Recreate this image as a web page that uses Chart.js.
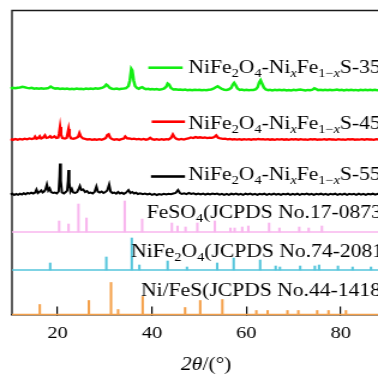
<!DOCTYPE html>
<html><head><meta charset="utf-8">
<style>
html,body{margin:0;padding:0;background:#fff;overflow:hidden;width:378px;height:376px}
#wrap{width:330px;height:376px;transform:scaleX(1.2);transform-origin:0 0}
canvas{display:block}
</style>
<script src="https://cdn.jsdelivr.net/npm/chart.js@4/dist/chart.umd.min.js"></script>
</head><body><div id="wrap"><canvas id="c" width="330" height="376"></canvas></div>
<script>
// ---- data ----
const xTicks = [20, 40, 60, 80];
const seriesNames = ['350', '450', '550'];
const offsets = { green: 224, red: 175, black: 120, pink: 82.5, cyan: 44.5, orange: 0 };

const green350 = [[10,2.0],[10.5,2.6],[11,2.2],[11.5,2.8],[12,3.0],[12.5,3.6],[13,3.2],[13.5,2.6],[14,2.2],[14.5,2.6],[15,1.9],[15.5,2.3],[16,1.8],[16.5,2.2],[17,1.7],[17.5,2.1],[18,2.4],[18.5,4.0],[19,2.6],[19.5,1.9],[20,2.2],[20.5,1.6],[21,2.0],[21.5,1.5],[22,1.9],[22.5,1.4],[23,1.8],[23.5,1.3],[24,1.9],[24.5,1.5],[25,1.8],[25.5,1.4],[26,1.9],[26.5,1.5],[27,2.0],[27.5,1.6],[28,2.1],[28.5,1.7],[29,2.2],[29.5,2.8],[30,4.2],[30.3,6.0],[30.6,5.0],[31,2.8],[31.5,1.8],[32,1.5],[32.5,1.9],[33,1.4],[33.5,1.8],[34,2.0],[34.5,2.4],[35,4.5],[35.3,10],[35.6,21.5],[35.8,20],[36.1,10],[36.4,4.5],[36.8,2.5],[37.2,1.8],[37.6,3.0],[37.9,3.4],[38.3,2.0],[38.7,1.3],[39.2,1.7],[39.6,1.1],[40,1.5],[40.5,1.0],[41,1.4],[41.5,0.9],[42,1.3],[42.5,1.8],[43,3.8],[43.3,7.0],[43.6,6.0],[44,2.5],[44.5,1.0],[45,1.3],[45.5,0.7],[46,1.0],[46.5,0.5],[47,0.9],[47.5,0.4],[48,0.8],[48.5,0.3],[49,0.7],[49.5,0.4],[50,0.8],[50.5,0.3],[51,0.6],[51.5,0.2],[52,0.7],[52.5,1.0],[53,1.8],[53.5,3.2],[53.9,4.2],[54.3,3.0],[54.8,1.5],[55.3,0.8],[55.8,0.6],[56.3,1.2],[56.8,2.8],[57.1,6.0],[57.4,7.6],[57.7,5.5],[58.1,2.0],[58.6,0.6],[59,0.9],[59.5,0.3],[60,0.7],[60.5,0.2],[61,0.6],[61.5,0.5],[62,1.2],[62.4,3.5],[62.7,8.0],[63,10.2],[63.3,7.0],[63.7,3.0],[64.1,1.0],[64.6,0.3],[65,0.7],[65.5,0.1],[66,0.6],[66.5,0.2],[67,0.8],[67.5,0.3],[68,0.6],[68.5,0.0],[69,0.5],[69.5,0.1],[70,0.6],[70.5,0.2],[71,0.7],[71.5,1.0],[72,0.4],[72.5,0.1],[73,0.6],[73.5,0.3],[74,0.9],[74.4,2.2],[74.8,1.4],[75.2,0.4],[75.7,0.8],[76.2,0.2],[76.7,0.7],[77.2,0.3],[77.7,0.8],[78.2,0.2],[78.7,0.6],[79.2,0.9],[79.7,0.3],[80.2,0.7],[80.7,0.1],[81.2,0.6],[81.7,0.2],[82.2,0.8],[82.7,0.3],[83.2,0.6],[83.7,0.1],[84.2,0.7],[84.7,0.3],[85.2,0.8],[85.7,0.2],[86.2,0.6],[86.7,0.2],[87.2,0.7],[87.7,0.3],[88.2,0.6],[88.7,0.1],[89.2,0.5],[89.7,0.2],[90,0.5]];

const red450 = [[10,0.3],[10.5,-0.4],[11,0.5],[11.5,-0.2],[12,0.6],[12.5,0.0],[13,0.8],[13.5,0.2],[14,1.0],[14.5,0.4],[15,1.2],[15.2,2.8],[15.5,0.8],[15.9,1.5],[16.2,3.2],[16.5,1.0],[16.9,1.8],[17.3,4.2],[17.6,1.6],[18,2.0],[18.4,3.4],[18.7,1.8],[19,2.2],[19.3,3.2],[19.7,1.5],[20.1,2.0],[20.3,6],[20.5,12.5],[20.7,5],[21,1.5],[21.5,1.0],[21.9,1.6],[22.1,6],[22.3,10.5],[22.5,4],[22.8,1.2],[23.3,0.8],[23.8,1.4],[24.3,2.5],[24.6,6.5],[24.9,3.0],[25.3,1.2],[25.8,0.6],[26.3,0.0],[26.8,0.4],[27.3,-0.3],[27.8,0.2],[28.3,-0.4],[28.8,0.3],[29.3,-0.2],[29.8,0.6],[30.2,1.6],[30.5,4.5],[30.8,5.2],[31.1,2.0],[31.5,0.5],[32,-0.2],[32.5,0.3],[33,-0.4],[33.5,0.4],[34,1.0],[34.3,3.0],[34.7,1.2],[35.2,1.0],[35.7,0.4],[36.2,0.8],[36.7,0.2],[37.2,0.6],[37.7,0.0],[38.2,0.5],[38.7,-0.2],[39.2,0.4],[39.6,1.8],[40,0.3],[40.5,-0.2],[41,0.4],[41.5,-0.3],[42,0.3],[42.5,-0.2],[43,0.4],[43.5,0.0],[44,1.5],[44.4,5.0],[44.8,2.0],[45.2,0.6],[45.7,0.0],[46.2,0.5],[46.7,-0.1],[47.2,0.6],[47.7,1.0],[48.2,2.0],[48.7,1.5],[49.2,2.4],[49.7,1.8],[50.2,2.2],[50.7,1.6],[51.2,2.0],[51.7,1.4],[52.2,1.8],[52.7,1.6],[53.2,2.5],[53.6,4.2],[54,1.8],[54.5,1.0],[55,0.6],[55.5,0.8],[56,0.2],[56.5,0.5],[57,0.0],[57.5,0.4],[58,-0.1],[58.5,0.3],[59,-0.2],[59.5,0.3],[60,-0.1],[60.5,0.4],[61,-0.2],[61.5,0.3],[62,0.0],[62.5,0.5],[63,0.1],[63.5,0.4],[64,-0.1],[64.5,0.3],[65,-0.2],[65.5,0.2],[66,-0.3],[66.5,0.3],[67,-0.1],[67.5,0.4],[68,-0.2],[68.5,0.2],[69,-0.3],[69.5,0.3],[70,0.0],[70.5,0.4],[71,-0.2],[71.5,0.3],[72,-0.1],[72.5,0.2],[73,-0.3],[73.5,0.3],[74,0.0],[74.5,0.4],[75,-0.2],[75.5,0.2],[76,-0.1],[76.5,0.3],[77,-0.2],[77.5,0.3],[78,0.0],[78.5,0.2],[79,-0.3],[79.5,0.3],[80,-0.1],[80.5,0.2],[81,-0.3],[81.5,0.3],[82,0.0],[82.5,0.4],[83,-0.2],[83.5,0.2],[84,-0.1],[84.5,0.3],[85,-0.2],[85.5,0.3],[86,0.0],[86.5,0.2],[87,-0.3],[87.5,0.3],[88,0.0],[88.5,0.2],[89,-0.2],[89.5,0.3],[90,0.0]];

const black550 = [[10,0.0],[10.4,0.8],[10.8,-0.5],[11.2,0.6],[11.6,-0.3],[12,0.9],[12.4,0.0],[12.8,1.2],[13.2,0.3],[13.6,1.5],[14,0.8],[14.4,1.8],[14.8,1.0],[15.2,2.0],[15.5,5.0],[15.8,1.5],[16.1,2.4],[16.5,4.0],[16.8,2.0],[17.1,3.0],[17.4,5.0],[17.7,10.0],[18.0,4.0],[18.3,6.0],[18.6,2.5],[19.0,1.5],[19.4,2.0],[19.8,1.0],[20.2,3.0],[20.4,18],[20.5,31],[20.65,14],[20.9,2.0],[21.3,1.0],[21.7,2.5],[22.0,4.0],[22.2,14],[22.3,24.5],[22.45,12],[22.7,3.0],[23.0,5.5],[23.3,2.0],[23.7,1.5],[24.1,2.5],[24.4,5.0],[24.7,8.5],[25.0,4.5],[25.4,5.0],[25.8,2.5],[26.2,3.5],[26.6,1.5],[27.0,2.0],[27.4,1.0],[27.8,2.5],[28.2,8.0],[28.5,3.0],[28.9,2.0],[29.3,3.0],[29.7,1.5],[30.1,2.5],[30.5,4.0],[30.9,10.0],[31.2,3.0],[31.6,1.5],[32.0,2.0],[32.4,0.8],[32.8,2.5],[33.2,1.0],[33.6,1.8],[34.0,0.6],[34.5,2.0],[35.0,4.5],[35.4,1.5],[35.8,2.5],[36.2,1.0],[36.6,1.8],[37.0,0.5],[37.5,1.2],[38.0,0.3],[38.5,1.0],[39.0,0.0],[39.5,0.8],[40.0,-0.3],[40.5,0.6],[41.0,-0.5],[41.5,0.5],[42.0,-0.2],[42.5,0.7],[43.0,0.0],[43.5,0.8],[44.0,0.2],[44.5,1.0],[45.0,1.5],[45.5,4.5],[45.9,1.5],[46.3,0.5],[46.8,1.2],[47.3,0.3],[47.8,1.5],[48.3,0.5],[48.8,1.2],[49.3,0.2],[49.8,1.0],[50.3,0.0],[50.8,0.9],[51.3,-0.2],[51.8,0.8],[52.3,0.0],[52.8,1.0],[53.3,0.2],[53.8,0.9],[54.3,-0.1],[54.8,0.7],[55.3,-0.3],[55.8,0.6],[56.3,-0.4],[56.8,0.8],[57.3,0.0],[57.8,0.9],[58.3,-0.2],[58.8,0.7],[59.3,-0.3],[59.8,0.8],[60.3,0.1],[60.8,0.9],[61.3,-0.2],[61.8,0.6],[62.3,-0.4],[62.8,0.7],[63.3,0.0],[63.8,0.8],[64.3,-0.3],[64.8,0.6],[65.3,-0.1],[65.8,0.9],[66.3,-0.2],[66.8,0.7],[67.3,-0.4],[67.8,0.6],[68.3,0.0],[68.8,0.8],[69.3,-0.3],[69.8,0.7],[70.3,-0.1],[70.8,0.8],[71.3,-0.3],[71.8,0.6],[72.3,0.0],[72.8,0.9],[73.3,-0.2],[73.8,0.7],[74.3,-0.4],[74.8,0.6],[75.3,0.0],[75.8,0.8],[76.3,-0.2],[76.8,0.7],[77.3,-0.3],[77.8,0.6],[78.3,0.1],[78.8,0.8],[79.3,-0.3],[79.8,0.7],[80.3,-0.1],[80.8,0.8],[81.3,-0.4],[81.8,0.6],[82.3,0.0],[82.8,0.7],[83.3,-0.3],[83.8,0.8],[84.3,-0.1],[84.8,0.6],[85.3,-0.3],[85.8,0.7],[86.3,0.0],[86.8,0.8],[87.3,-0.2],[87.8,0.6],[88.3,-0.3],[88.8,0.7],[89.3,0.0],[89.8,0.6]];

const feso4Angles  = [20.3, 22.3, 24.4, 26.1, 34.2, 37.9, 44.2, 45.4, 47.1, 49.6, 53.3, 56.6, 57.5, 59.1, 60.4, 64.8, 67.0, 71.2, 73.2, 76.0];
const feso4Heights = [11, 8, 28, 14, 31, 13, 9, 6, 5, 9, 11, 4, 4, 5, 6, 9, 4, 5, 4, 6];
const nife2o4Angles  = [18.4, 30.3, 35.7, 37.3, 43.3, 47.4, 53.8, 57.3, 62.9, 66.2, 67.1, 71.4, 74.5, 75.4, 79.4, 82.5, 86.4];
const nife2o4Heights = [7, 13, 32, 5, 9, 3, 7, 12, 10, 4, 3, 4, 4, 5, 4, 3, 3];
const nifesAngles  = [16.2, 26.6, 31.3, 32.8, 38.0, 47.0, 50.2, 54.9, 62.1, 64.5, 68.7, 71.0, 75.0, 77.4, 81.1];
const nifesHeights = [10, 14, 32, 5, 18, 7, 14, 15, 4, 4, 4, 4, 4, 4, 4];

// ---- styles ----
const C = { green:'#14ee14', red:'#ff0000', black:'#000000', pink:'#f8b6ee', cyan:'#55c5db', orange:'#f4a04a' };
const XMIN = 10.31, XMAX = 90;
const SERIF = '"Liberation Serif", "Times New Roman", serif';

const curve = (arr, off, color, label, w) => ({
  type:'line', label, data: arr.map(p => ({x:p[0], y:off + p[1]})),
  borderColor: color, borderWidth: w, pointRadius: 0, tension: 0, clip: false, fill:false
});
const baseLine = (off, color) => ({
  type:'line', data:[{x:XMIN, y:off},{x:XMAX, y:off}],
  borderColor: color, borderWidth: 1.6, pointRadius: 0, clip: false
});
const sticks = (angles, heights, off, color) => ({
  type:'bar', data: angles.map((a,i) => ({x:a, y:[off, off + heights[i]]})),
  backgroundColor: color, borderWidth: 0, barThickness: 1.4, grouped: false, clip: false
});

function drawRich(ctx, segs, x, y) {
  for (const [t, st] of segs) {
    let size = 18, dy = 0, style = '';
    if (st === 's' || st === 'si') { size = 12; dy = 4; }
    if (st === 'i' || st === 'si') style = 'italic ';
    ctx.font = style + size + 'px ' + SERIF;
    ctx.fillText(t, x, y + dy);
    x += ctx.measureText(t).width;
  }
}
function label(n) {
  return [['NiFe','n'],['2','s'],['O','n'],['4','s'],['-Ni','n'],['x','si'],['Fe','n'],['1\u2212','s'],['x','si'],['S-' + n,'n']];
}

const overlay = {
  id:'overlay',
  beforeDatasetsDraw(chart) {
    const {ctx, chartArea:a} = chart;
    ctx.save();
    ctx.strokeStyle = '#1a1a1a'; ctx.lineWidth = 1.4;
    ctx.beginPath();
    ctx.moveTo(a.left, a.bottom); ctx.lineTo(a.left, a.top); ctx.lineTo(a.right, a.top); ctx.lineTo(a.right, a.bottom);
    ctx.stroke();
    ctx.restore();
  },
  afterDatasetsDraw(chart) {
    const {ctx} = chart;
    ctx.save();
    ctx.fillStyle = '#000'; ctx.textBaseline = 'alphabetic'; ctx.textAlign = 'left';
    const leg = [
      {c:C.green, x1:123.6, x2:152.2, ly:67.7, ty:72.8, n:seriesNames[0]},
      {c:C.red,   x1:126.4, x2:154.2, ly:121.7, ty:128.5, n:seriesNames[1]},
      {c:C.black, x1:125.8, x2:154.2, ly:176.5, ty:180, n:seriesNames[2]}
    ];
    for (const l of leg) {
      ctx.strokeStyle = l.c; ctx.lineWidth = 2.6;
      ctx.beginPath(); ctx.moveTo(l.x1, l.ly); ctx.lineTo(l.x2, l.ly); ctx.stroke();
      drawRich(ctx, label(l.n), 156.9, l.ty);
    }
    drawRich(ctx, [['FeSO','n'],['4','s'],['(JCPDS No.17-0873)','n']], 122.2, 218);
    drawRich(ctx, [['NiFe','n'],['2','s'],['O','n'],['4','s'],['(JCPDS No.74-2081)','n']], 109.2, 257);
    drawRich(ctx, [['Ni/FeS(JCPDS No.44-1418)','n']], 117.5, 295.7);
    drawRich(ctx, [['2\u03b8','i'],['/(\u00b0)','n']], 150.8, 370);
    ctx.restore();
  }
};

new Chart(document.getElementById('c'), {
  type:'line',
  data:{ datasets:[
    baseLine(offsets.pink, C.pink), sticks(feso4Angles, feso4Heights, offsets.pink, C.pink),
    baseLine(offsets.cyan, C.cyan), sticks(nife2o4Angles, nife2o4Heights, offsets.cyan, C.cyan),
    baseLine(offsets.orange, C.orange), sticks(nifesAngles, nifesHeights, offsets.orange, C.orange),
    curve(black550, offsets.black, C.black, seriesNames[2], 2.0),
    curve(red450, offsets.red, C.red, seriesNames[1], 2.3),
    curve(green350, offsets.green, C.green, seriesNames[0], 2.5)
  ]},
  options:{
    responsive:false, animation:false, devicePixelRatio:1,
    layout:{ padding:{ left:10, right:6.7, top:10.5, bottom:0 } },
    plugins:{ legend:{display:false}, tooltip:{enabled:false} },
    scales:{
      x:{ type:'linear', min:XMIN, max:XMAX, offset:false,
        afterBuildTicks: s => { s.ticks = xTicks.map(v => ({value:v})); },
        afterFit: s => { s.height = 61.5; },
        ticks:{ color:'#000', font:{ family:SERIF, size:17 }, padding:17, maxRotation:0, autoSkip:false },
        grid:{ display:true, offset:false, drawOnChartArea:false, drawTicks:true, tickLength:-8, color:'#000', lineWidth:1.2 },
        border:{ display:true, color:'#1a1a1a', width:1.4 }
      },
      y:{ type:'linear', min:0, max:304, display:false }
    }
  },
  plugins:[overlay]
});
</script>
</body></html>
